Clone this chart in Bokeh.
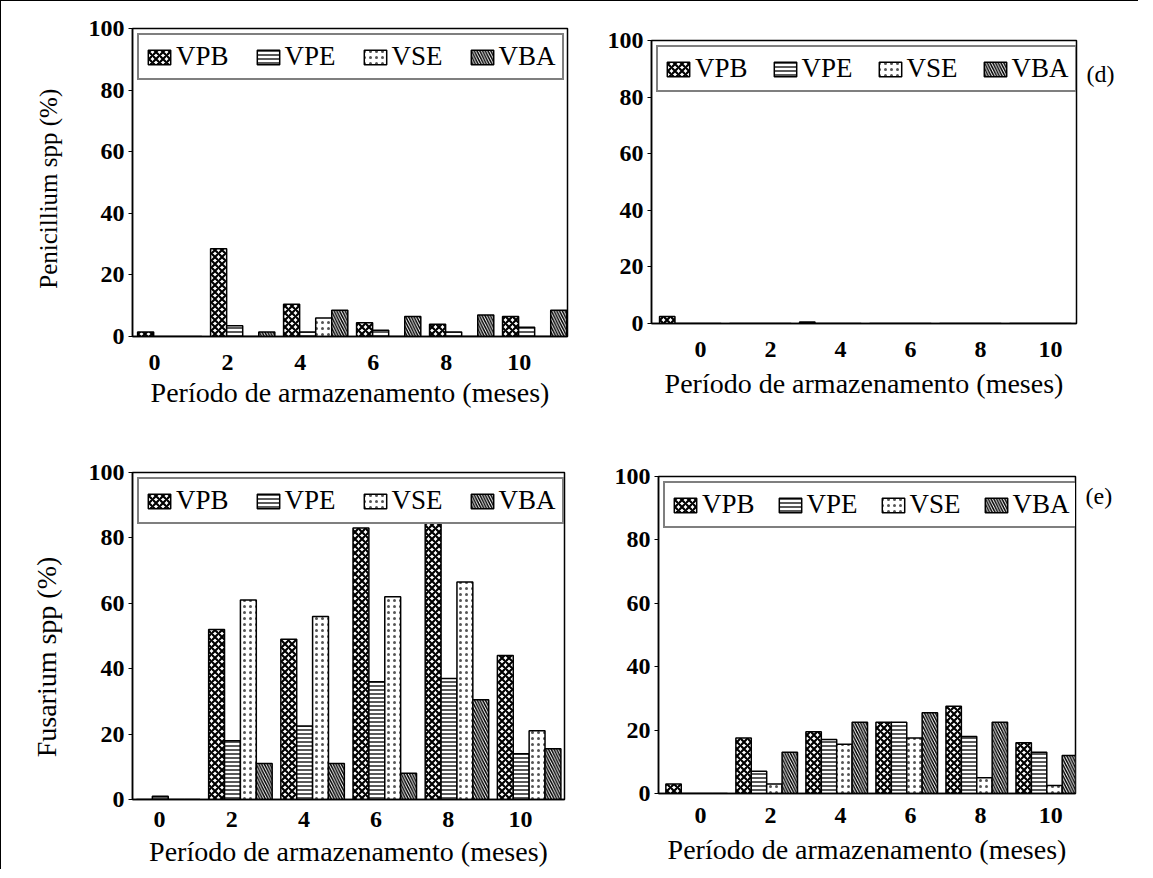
from bokeh.plotting import figure
from bokeh.layouts import column, row
from bokeh.models import (FixedTicker, Legend, LegendItem, LinearAxis,
                          ColumnDataSource, Range1d)
from bokeh.transform import dodge
from bokeh.embed import file_html
from bokeh.resources import INLINE

# ---------------- data ----------------
months = [0, 2, 4, 6, 8, 10]
series = ["VPB", "VPE", "VSE", "VBA"]
y_ticks = [0, 20, 40, 60, 80, 100]

# Penicillium spp (%) - left panel
pen_l_vpb = [1.5, 28.5, 10.5, 4.5, 4, 6.5]
pen_l_vpe = [0, 3.5, 1.5, 2, 1.5, 3]
pen_l_vse = [0, 0, 6, 0, 0, 0]
pen_l_vba = [0, 1.5, 8.5, 6.5, 7, 8.5]

# Penicillium spp (%) - right panel (d)
pen_r_vpb = [2.5, 0, 0.5, 0, 0, 0]
pen_r_vpe = [0, 0, 0, 0, 0, 0]
pen_r_vse = [0, 0, 0, 0, 0, 0]
pen_r_vba = [0, 0, 0, 0, 0, 0]

# Fusarium spp (%) - left panel
fus_l_vpb = [0, 52, 49, 83, 88, 44]
fus_l_vpe = [1, 18, 22.5, 36, 37, 14]
fus_l_vse = [0, 61, 56, 62, 66.5, 21]
fus_l_vba = [0, 11, 11, 8, 30.5, 15.5]

# Fusarium spp (%) - right panel (e)
fus_r_vpb = [3, 17.5, 19.5, 22.5, 27.5, 16]
fus_r_vpe = [0, 7, 17, 22.5, 18, 13]
fus_r_vse = [0, 3, 15.5, 17.5, 5, 2.5]
fus_r_vba = [0, 13, 22.5, 25.5, 22.5, 12]

x_label = "Período de armazenamento (meses)"
pen_label = "Penicillium spp (%)"
fus_label = "Fusarium spp (%)"

# ---------------- style ----------------
FONT = "Liberation Serif"
BAR_W = 0.44
OFFSETS = [-0.66, -0.22, 0.22, 0.66]
NBSP = "\u00a0"
HATCH = {
    "VPB": dict(hatch_pattern="x", hatch_scale=7, hatch_weight=2.2, hatch_color="black"),
    "VPE": dict(hatch_pattern="-", hatch_scale=4, hatch_weight=1.3, hatch_color="black"),
    "VSE": dict(hatch_pattern=".", hatch_scale=6, hatch_weight=0.7, hatch_color="#555555"),
    "VBA": dict(hatch_pattern="\\", hatch_scale=5.5, hatch_weight=1.5, hatch_color="black"),
}


def make_panel(vals, x_start, x_end, shift, left, right, top, bottom, fw, fh,
               tick_standoff, label_standoff, leg_spacing, ylabel=None,
               ylabel_size="25px", ylabel_pad=0, tag=None, tag_y=90):
    p = figure(frame_width=fw, frame_height=fh, frame_align=False,
               min_border_left=left, min_border_right=right,
               min_border_top=top, min_border_bottom=bottom,
               x_range=Range1d(x_start, x_end), y_range=Range1d(0, 100),
               output_backend="svg", toolbar_location=None)
    src = ColumnDataSource(dict(month=months, **dict(zip(series, vals))))
    items = []
    for name, off in zip(series, OFFSETS):
        r = p.vbar(x=dodge("month", off + shift, range=p.x_range), top=name,
                   width=BAR_W, source=src, fill_color="white",
                   line_color="black", line_width=1.5, **HATCH[name])
        items.append(LegendItem(label=name, renderers=[r]))
    leg = Legend(items=items, orientation="horizontal", location="top_left",
                 margin=5, padding=6, spacing=leg_spacing, glyph_width=28,
                 glyph_height=18, label_standoff=3, label_text_font=FONT,
                 label_text_font_size="27px", label_text_color="black",
                 border_line_color="black", border_line_width=2,
                 background_fill_color="white", background_fill_alpha=1)
    p.add_layout(leg, "center")

    p.xgrid.visible = False
    p.ygrid.visible = False
    p.outline_line_color = "black"
    p.outline_line_width = 1.5
    p.background_fill_color = "white"
    p.border_fill_color = "white"

    p.xaxis.ticker = FixedTicker(ticks=months)
    p.yaxis.ticker = FixedTicker(ticks=y_ticks)
    for ax in (p.xaxis, p.yaxis):
        ax.axis_line_color = "black"
        ax.axis_line_width = 1.5
        ax.minor_tick_line_color = None
        ax.major_label_text_font = FONT
        ax.major_label_text_font_size = "24px"
        ax.major_label_text_font_style = "bold"
        ax.major_label_text_color = "black"
        ax.axis_label_text_font = FONT
        ax.axis_label_text_font_style = "normal"
        ax.axis_label_text_color = "black"
    p.xaxis.axis_label_text_font_size = "28px"
    p.xaxis.major_tick_line_color = None
    p.xaxis.major_label_standoff = tick_standoff
    p.xaxis.axis_label = x_label
    p.xaxis.axis_label_standoff = label_standoff
    p.yaxis.major_tick_out = 4
    p.yaxis.major_tick_in = 0
    p.yaxis.major_tick_line_color = "black"
    p.yaxis.major_label_standoff = 4
    if ylabel:
        p.yaxis.axis_label = ylabel + NBSP * ylabel_pad
        p.yaxis.axis_label_text_font_size = ylabel_size
        p.yaxis.axis_label_standoff = 24
    if tag:
        tag_axis = LinearAxis(ticker=FixedTicker(ticks=[tag_y]),
                              major_label_overrides={tag_y: tag},
                              axis_line_color=None, major_tick_line_color=None,
                              minor_tick_line_color=None, major_label_standoff=4,
                              major_label_text_font=FONT,
                              major_label_text_font_size="24px",
                              major_label_text_color="black")
        p.add_layout(tag_axis, "right")
    return p


p1 = make_panel([pen_l_vpb, pen_l_vpe, pen_l_vse, pen_l_vba], -0.6, 11.32, 0.42,
                131, 26, 27, 87, 435, 308, 12, 4, 25,
                ylabel=pen_label, ylabel_size="25px", ylabel_pad=2)
p2 = make_panel([pen_r_vpb, pen_r_vpe, pen_r_vse, pen_r_vba], -1.4, 10.74, -0.29,
                58, 62, 39, 100, 425, 283, 12, 8, 23, tag="(d)", tag_y=88)
p3 = make_panel([fus_l_vpb, fus_l_vpe, fus_l_vse, fus_l_vba], -0.75, 11.22, 0.24,
                131, 29, 49, 64, 432, 327, 6, 6, 25,
                ylabel=fus_label, ylabel_size="28px", ylabel_pad=6)
p4 = make_panel([fus_r_vpb, fus_r_vpe, fus_r_vse, fus_r_vba], -1.2, 10.71, -0.11,
                65, 63, 53, 70, 417, 317, 8, 8, 21, tag="(e)", tag_y=94)

layout = column(row(p1, p2, spacing=0), row(p3, p4, spacing=0), spacing=0,
                styles={"border-left": "1.5px solid black",
                        "border-top": "1.5px solid black"})

open("out.html", "w").write(file_html(layout, INLINE))
